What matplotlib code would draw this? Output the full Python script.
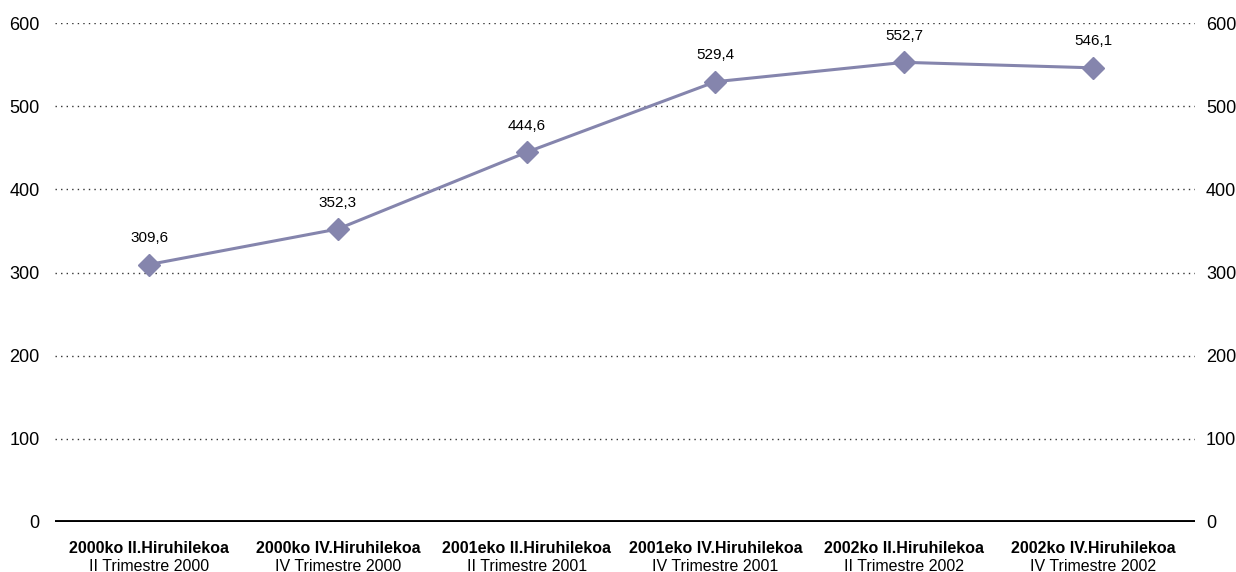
import matplotlib

matplotlib.use("Agg")
import matplotlib.pyplot as plt  # noqa: E402
import numpy as np  # noqa: E402

plt.rcParams["font.family"] = ["Liberation Sans", "DejaVu Sans"]

periods_eu = ["2000ko II.Hiruhilekoa", "2000ko IV.Hiruhilekoa", "2001eko II.Hiruhilekoa",
              "2001eko IV.Hiruhilekoa", "2002ko II.Hiruhilekoa", "2002ko IV.Hiruhilekoa"]
periods_es = ["II Trimestre 2000", "IV Trimestre 2000", "II Trimestre 2001",
              "IV Trimestre 2001", "II Trimestre 2002", "IV Trimestre 2002"]
values = [309.6, 352.3, 444.6, 529.4, 552.7, 546.1]
yticks = [0, 100, 200, 300, 400, 500, 600]

line_color = "#8585AD"

fig = plt.figure(figsize=(12.36, 5.72), dpi=100)
ax = fig.add_axes([55 / 1236, 50 / 572, 1140 / 1236, 499 / 572])
x = np.arange(len(values))

for y in yticks[1:]:
    ax.axhline(y, color="#333333", linewidth=1.0, linestyle=(0, (1, 3)), zorder=1)
ax.axhline(0, color="black", linewidth=2.8, zorder=2)

ax.plot(x, values, color=line_color, linewidth=2.2, marker="D", markersize=11,
        markerfacecolor=line_color, markeredgecolor=line_color, zorder=3)
for xi, v in zip(x, values):
    ax.annotate(f"{v:.1f}".replace(".", ","), (xi, v), xytext=(0, 14),
                textcoords="offset points", ha="center", va="bottom", fontsize=11)

ax.set_xlim(-0.498, 5.54)
ax.set_ylim(0, 600)
ax.set_yticks(yticks)
ax.set_xticks([])
for s in ax.spines.values():
    s.set_visible(False)
ax.tick_params(axis="y", length=0, labelsize=13, pad=11)

# right-hand copy of the value axis
axr = ax.twinx()
axr.set_ylim(ax.get_ylim())
axr.set_yticks(yticks)
for s in axr.spines.values():
    s.set_visible(False)
axr.tick_params(axis="y", length=0, labelsize=13, pad=8)

for xi, eu, es in zip(x, periods_eu, periods_es):
    ax.annotate(eu, (xi, 0), xytext=(0, -13.5), textcoords="offset points",
                ha="center", va="top", fontsize=11.5, fontweight="bold")
    ax.annotate(es, (xi, 0), xytext=(0, -26.5), textcoords="offset points",
                ha="center", va="top", fontsize=11.5)

fig.savefig("out.png", dpi=100)
